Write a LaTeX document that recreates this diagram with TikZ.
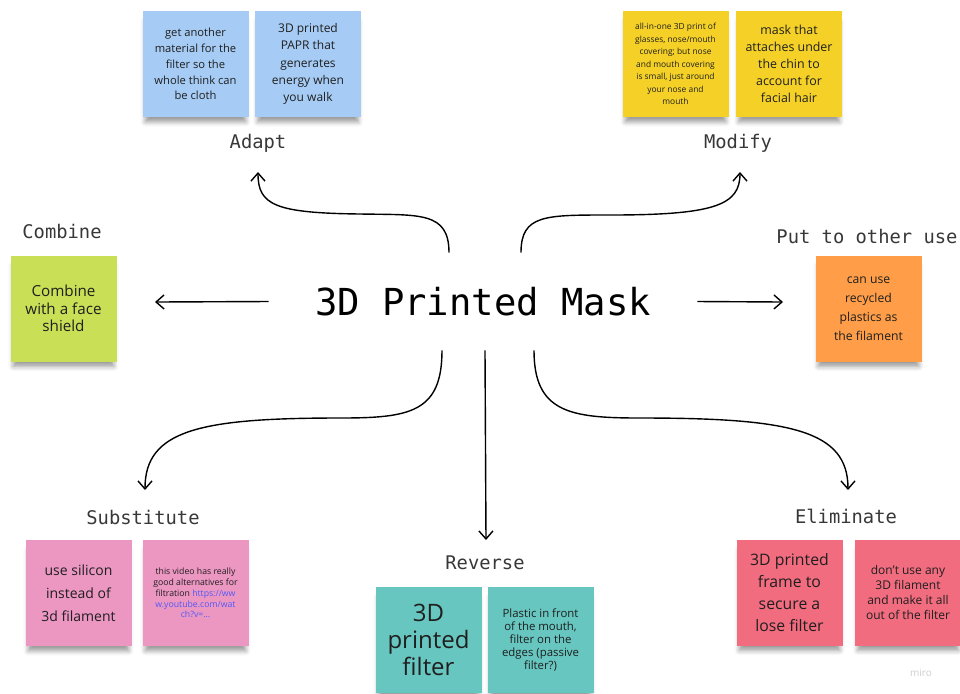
\documentclass[tikz,border=0pt]{standalone}
\usepackage{fontspec}
\setmainfont{Open Sans}
\newfontfamily\labelmono{DejaVu Sans Mono}
\usepackage{xcolor}
\usetikzlibrary{arrows.meta,shadows.blur}

\definecolor{noteblue}{RGB}{166,204,245}
\definecolor{noteyellow}{RGB}{245,209,40}
\definecolor{notegreen}{RGB}{201,223,86}
\definecolor{noteorange}{RGB}{255,157,72}
\definecolor{notepink}{RGB}{236,150,194}
\definecolor{noteteal}{RGB}{103,198,192}
\definecolor{notered}{RGB}{241,108,127}
\definecolor{linkblue}{RGB}{80,90,245}

\begin{document}
\begin{tikzpicture}[x=0.5pt, y=-0.5pt,
    sticky/.style={minimum width=53pt, minimum height=53pt, inner sep=1pt, align=center,
                   text=black!88,
                   blur shadow={shadow xshift=0pt, shadow yshift=-4pt, shadow scale=0.95,
                                shadow blur radius=2.5pt, shadow opacity=40}},
    fsz/.style 2 args={font=\fontsize{#1}{#2}\selectfont},
    cat/.style={font=\labelmono\fontsize{9.4}{11}\selectfont, text=black!78},
    arr/.style={-{Straight Barb[length=4pt,width=7pt]}, line width=0.7pt},
]
\useasboundingbox (0,0) rectangle (960,693);
\clip (0,0) rectangle (960,693);

\node[font=\labelmono\fontsize{18.6}{22}\selectfont, minimum width=214pt,
      minimum height=48.5pt, inner sep=0pt] (mask) at (483,301.5) {3D Printed Mask};

\node[cat] (adapt) at (258,143) {Adapt};
\node[cat] (modify) at (738,143) {Modify};
\node[cat] (combine) at (62,231) {Combine};
\node[cat] (putuse) at (867,236) {Put to other use};
\node[cat] (subst) at (143,517) {Substitute};
\node[cat] (reverse) at (485,563) {Reverse};
\node[cat] (elim) at (846,516) {Eliminate};

\node[sticky, fill=noteblue, fsz={5.6}{7.9}] (adapt1) at (195.5,64)
    {get another\\material for the\\filter so the\\whole think can\\be cloth};
\node[sticky, fill=noteblue, fsz={6}{8.7}] (adapt2) at (308,64)
    {3D printed\\PAPR that\\generates\\energy when\\you walk};
\node[sticky, fill=noteyellow, fsz={4.2}{6.25}] (modify1) at (675.5,64)
    {all-in-one 3D print of\\glasses, nose/mouth\\covering; but nose\\and mouth covering\\is small, just around\\your nose and\\mouth};
\node[sticky, fill=noteyellow, fsz={6.2}{8.5}] (modify2) at (789,64)
    {mask that\\attaches under\\the chin to\\account for\\facial hair};
\node[sticky, fill=notegreen, fsz={7.6}{8.75}] (combine1) at (63.5,308.5)
    {Combine\\with a face\\shield};
\node[sticky, fill=noteorange, fsz={6.1}{9.5}] (putuse1) at (868.5,308.5)
    {can use\\recycled\\plastics as\\the filament};
\node[sticky, fill=notepink, fsz={7}{11.5}] (subst1) at (78.5,593)
    {use silicon\\instead of\\3d filament};
\node[sticky, fill=notepink, fsz={4.35}{5.4}] (subst2) at (195.5,593)
    {this video has really\\good alternatives for\\filtration \textcolor{linkblue}{https://ww}\\
     \textcolor{linkblue}{w.youtube.com/wat}\\\textcolor{linkblue}{ch?v=\dots}};
\node[sticky, fill=noteteal, fsz={12}{13.5}] (reverse1) at (428.5,640)
    {3D\\printed\\filter};
\node[sticky, fill=noteteal, fsz={5.7}{6.5}] (reverse2) at (540.5,640)
    {Plastic in front\\of the mouth,\\filter on the\\edges (passive\\filter?)};
\node[sticky, fill=notered, fsz={7.9}{11}] (elim1) at (789.5,592.5)
    {3D printed\\frame to\\secure a\\lose filter};
\node[sticky, fill=notered, fsz={6}{7.5}] (elim2) at (908,592.5)
    {don't use any\\3D filament\\and make it all\\out of the filter};

\node[fsz={5}{6}, text=black!20] (miro) at (921,673) {miro};

\coordinate (adaptTip) at (258,172);
\coordinate (modifyTip) at (740,172);
\coordinate (combineTip) at (155,302);
\coordinate (putuseTip) at (783,302);
\coordinate (substTip) at (145,490);
\coordinate (reverseTip) at (486,540);
\coordinate (elimTip) at (848,490);

\draw[arr] ([xshift=-17pt]mask.north) .. controls +(0,-41) and (420,215) .. (360,214)
    .. controls (275,213) and (258,205) .. (adaptTip);
\draw[arr] ([xshift=19pt]mask.north) .. controls +(0,-38) and (545,215) .. (610,215)
    .. controls (715,215) and (740,205) .. (modifyTip);
\draw[arr] (mask.west) -- (combineTip);
\draw[arr] (mask.east) -- (putuseTip);
\draw[arr] ([xshift=-20.5pt]mask.south) .. controls +(0,62) and (410,418) .. (340,418)
    .. controls (200,418) and (145,430) .. (substTip);
\draw[arr] ([xshift=1pt]mask.south) -- (reverseTip);
\draw[arr] ([xshift=25.5pt]mask.south) .. controls +(0,62) and (570,418) .. (640,418)
    .. controls (790,418) and (848,430) .. (elimTip);
\end{tikzpicture}
\end{document}
